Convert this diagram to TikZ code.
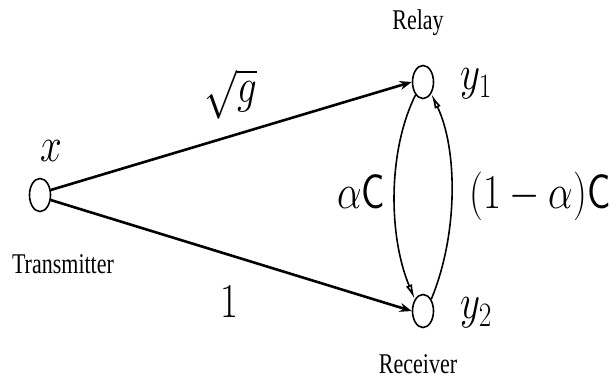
\RequirePackage{fix-cm}
\documentclass[tikz,border=0pt]{standalone}
\usepackage{fontspec}
\usepackage{amsmath}
\newfontfamily\timesfont{Liberation Serif}
\newcommand\vstretch[2][1.25]{\scalebox{1}[#1]{#2}}
\usetikzlibrary{arrows.meta,shapes.geometric}
\tikzset{
  terminal/.style={draw,ellipse,line width=1.6pt,minimum width=21pt,minimum height=33pt,inner sep=0pt},
  caption/.style={font=\timesfont\fontsize{22}{26}\selectfont,inner sep=0pt},
  mathlab/.style={font=\fontsize{39}{44}\selectfont,inner sep=0pt},
  link/.style={line width=2.6pt,-{Stealth[length=12pt,width=9pt]}},
  loop/.style={line width=1.6pt,-{Latex[open,length=15pt,width=6.5pt]}}
}
\begin{document}
\begin{tikzpicture}[x=1pt,y=-1pt]
\useasboundingbox (0,0) rectangle (613,381);
\node[terminal] (tx) at (40,195) {};
\node[terminal] (relay) at (423,82) {};
\node[terminal] (rx) at (423,311) {};
\node[mathlab] (xl) at (51,151) {\vstretch{$x$}};
\node[caption] (txl) at (63,264) {\vstretch[1.3]{Transmitter}};
\node[caption] (rl) at (418,23) {\vstretch[1.3]{Relay}};
\node[caption] (rxl) at (418,364) {\vstretch[1.3]{Receiver}};
\node[mathlab] (y1) at (476,84) {\vstretch{$y_1$}};
\node[mathlab] (y2) at (476,313) {\vstretch{$y_2$}};
\node[mathlab] (g) at (231,94) {\vstretch{$\sqrt{g}$}};
\node[mathlab] (one) at (229,302) {\vstretch{$1$}};
\node[mathlab] (ac) at (361,192) {\vstretch{$\alpha\mathsf{C}$}};
\node[mathlab] (bc) at (540,196) {\vstretch{$(1-\alpha)\mathsf{C}$}};
\draw[link] (tx.25) -- (relay.west);
\draw[link] (tx.-25) -- (rx.west);
\draw[loop] (relay.240) .. controls (388,150) and (388,235) .. (rx.125);
\draw[loop] (rx.55) .. controls (458,235) and (458,150) .. (relay.-55);
\end{tikzpicture}
\end{document}
